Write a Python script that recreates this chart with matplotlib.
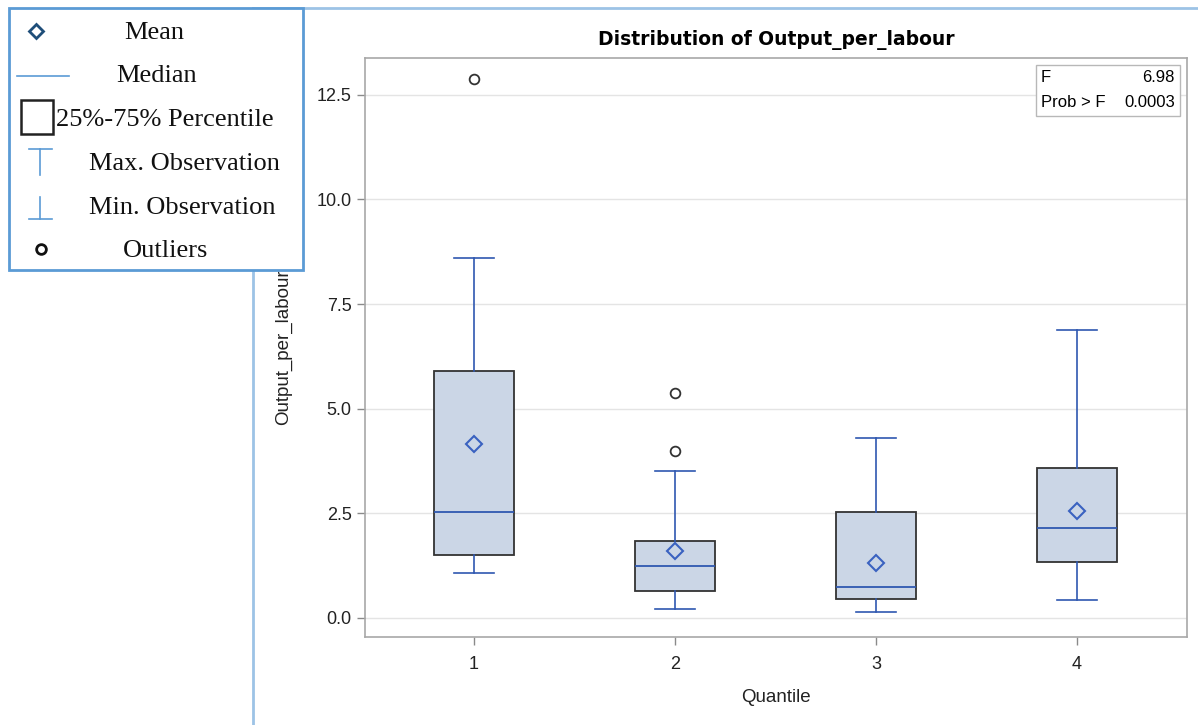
import matplotlib.pyplot as plt
from matplotlib.patches import Rectangle
from matplotlib.lines import Line2D

quantiles = [1, 2, 3, 4]
whisker_lo = [1.08, 0.22, 0.14, 0.43]
q1 = [1.51, 0.65, 0.45, 1.34]
medians = [2.53, 1.24, 0.74, 2.15]
q3 = [5.90, 1.84, 2.53, 3.58]
whisker_hi = [8.60, 3.51, 4.30, 6.88]
means = [4.16, 1.60, 1.31, 2.56]
outliers = [[12.88], [5.38, 3.99], [], []]

f_value = "6.98"
prob_f = "0.0003"

BLUE = "#2F58B0"
FILL = "#CBD6E6"
W, H = 1198, 725

plt.rcParams["font.family"] = ["Liberation Sans", "DejaVu Sans"]

fig = plt.figure(figsize=(W / 100, H / 100), dpi=100)
ax = fig.add_axes([365 / W, 1 - 637 / H, 822 / W, 579 / H])

stats = []
for i in range(len(quantiles)):
    stats.append({
        "whislo": whisker_lo[i], "q1": q1[i], "med": medians[i],
        "q3": q3[i], "whishi": whisker_hi[i], "mean": means[i],
        "fliers": outliers[i], "label": str(quantiles[i]),
    })

ax.bxp(
    stats, positions=quantiles, widths=0.40, capwidths=0.20,
    showmeans=True, patch_artist=True,
    boxprops=dict(facecolor=FILL, edgecolor="#333333", linewidth=1.3),
    medianprops=dict(color=BLUE, linewidth=1.3),
    whiskerprops=dict(color=BLUE, linewidth=1.2),
    capprops=dict(color=BLUE, linewidth=1.2),
    meanprops=dict(marker="D", markersize=8.5, markerfacecolor="none",
                   markeredgecolor="#3A62C0", markeredgewidth=1.5),
    flierprops=dict(marker="o", markersize=7, markerfacecolor="none",
                    markeredgecolor="#333333", markeredgewidth=1.3),
)

ax.set_xlim(0.458, 4.547)
ax.set_ylim(-0.454, 13.38)
ax.set_yticks([0, 2.5, 5, 7.5, 10, 12.5])
ax.set_yticklabels(["0.0", "2.5", "5.0", "7.5", "10.0", "12.5"])
ax.yaxis.grid(True, color="#E4E4E4", linewidth=1)
ax.set_axisbelow(True)
for s in ax.spines.values():
    s.set_color("#A8A8A8")
    s.set_linewidth(1.2)
ax.tick_params(axis="both", colors="#8A8A8A", labelcolor="#222222",
               labelsize=13, length=6, width=1)
ax.tick_params(axis="x", pad=8)
ax.set_xlabel("Quantile", fontsize=13.5, color="#222222", labelpad=11)
ax.set_ylabel("Output_per_labour", fontsize=13.5, color="#222222",
              labelpad=18)
ax.set_title("Distribution of Output_per_labour", fontsize=13.5,
             fontweight="bold", family="DejaVu Sans", pad=9)

# stats inset box
ax.add_patch(Rectangle((0.816, 0.900), 0.1755, 0.088, transform=ax.transAxes,
                       facecolor="white", edgecolor="#B8B8B8", linewidth=1,
                       zorder=5))
ax.text(0.822, 0.966, "F", transform=ax.transAxes, fontsize=12,
        va="center", ha="left", zorder=6)
ax.text(0.985, 0.966, f_value, transform=ax.transAxes, fontsize=12,
        va="center", ha="right", zorder=6)
ax.text(0.822, 0.924, "Prob > F", transform=ax.transAxes, fontsize=12,
        va="center", ha="left", zorder=6)
ax.text(0.985, 0.924, prob_f, transform=ax.transAxes, fontsize=12,
        va="center", ha="right", zorder=6)

# overlay: frame lines and pasted legend
ov = fig.add_axes([0, 0, 1, 1])
ov.set_xlim(0, W)
ov.set_ylim(H, 0)
ov.axis("off")
ov.patch.set_alpha(0)
ov.add_line(Line2D([253, 253], [8, H], color="#9DC3E6", linewidth=2))
ov.add_line(Line2D([253, W], [8, 8], color="#9DC3E6", linewidth=2))
ov.add_patch(Rectangle((9, 8), 294, 262, facecolor="white",
                       edgecolor="#5B9BD5", linewidth=2, zorder=3))

serif = dict(family=["Liberation Serif", "DejaVu Serif"], fontsize=19,
             va="center", ha="center", zorder=5, color="#111111")
ov.plot([36], [31], marker="D", markersize=7, markerfacecolor="none",
        markeredgecolor="#1F4E79", markeredgewidth=2, zorder=4)
ov.text(154, 33, "Mean", **serif)
ov.plot([17, 69], [76, 76], color="#5B9BD5", linewidth=1.2, zorder=4)
ov.text(157, 76, "Median", **serif)
ov.add_patch(Rectangle((21, 100), 32, 34, facecolor="white",
                       edgecolor="#222222", linewidth=1.8, zorder=4))
ov.text(165, 120, "25%-75% Percentile", **serif)
ov.plot([29, 52], [149, 149], color="#5B9BD5", linewidth=1.2, zorder=4)
ov.plot([40, 40], [149, 175], color="#5B9BD5", linewidth=1.2, zorder=4)
ov.text(184, 164, "Max. Observation", **serif)
ov.plot([40, 40], [197, 219], color="#5B9BD5", linewidth=1.2, zorder=4)
ov.plot([29, 52], [219, 219], color="#5B9BD5", linewidth=1.2, zorder=4)
ov.text(182, 208, "Min. Observation", **serif)
ov.plot([41], [249], marker="o", markersize=7, markerfacecolor="none",
        markeredgecolor="#111111", markeredgewidth=2, zorder=4)
ov.text(166, 251, "Outliers", **serif)

fig.savefig("out.png", dpi=100)
